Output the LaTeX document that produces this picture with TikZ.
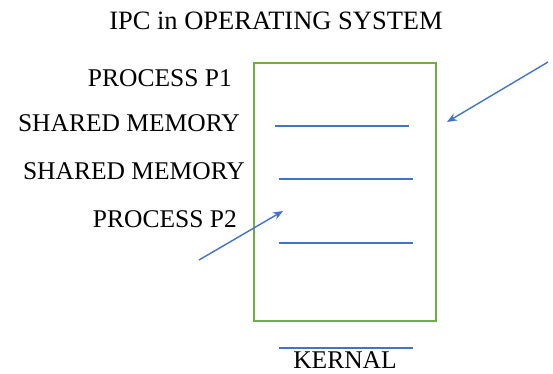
\documentclass[tikz,border=0pt]{standalone}
\usepackage{fontspec}
\setmainfont{Liberation Serif}
\usetikzlibrary{arrows.meta}
\definecolor{boxgreen}{RGB}{112,173,71}
\definecolor{lineblue}{RGB}{68,114,196}
\begin{document}
\begin{tikzpicture}[x=1pt,y=-1pt,
  lbl/.style={inner sep=0pt,font=\fontsize{25.5}{28}\selectfont},
  ttl/.style={inner sep=0pt,font=\fontsize{26.5}{30}\selectfont},
  kbox/.style={draw=boxgreen,line width=1.6pt},
  memline/.style={draw=lineblue,line width=1.3pt},
  blarrow/.style={draw=lineblue,line width=1.4pt,-{Stealth[length=10pt,width=8pt]}}]
\useasboundingbox (0,0) rectangle (553,373);
\node[ttl,anchor=base] (title) at (276,29) {IPC in OPERATING SYSTEM};
\node[kbox,minimum width=182pt,minimum height=258pt,inner sep=0pt,anchor=north west] (box) at (253,62) {};
\node[lbl,anchor=base east] (p1) at (232,86) {PROCESS P1};
\node[lbl,anchor=base east] (sm1) at (240,131) {SHARED MEMORY};
\node[lbl,anchor=base east] (sm2) at (245,179) {SHARED MEMORY};
\node[lbl,anchor=base east] (p2) at (237,227) {PROCESS P2};
\node[lbl,anchor=base] (kern) at (345,368) {KERNAL};
\coordinate (l1a) at (275,126); \coordinate (l1b) at (409,126);
\coordinate (l2a) at (279,179); \coordinate (l2b) at (413,179);
\coordinate (l3a) at (279,243); \coordinate (l3b) at (413,243);
\coordinate (l4a) at (279,348); \coordinate (l4b) at (413,348);
\draw[memline] (l1a) -- (l1b);
\draw[memline] (l2a) -- (l2b);
\draw[memline] (l3a) -- (l3b);
\draw[memline] (l4a) -- (l4b);
\coordinate (a1s) at (548,62); \coordinate (a1e) at (447,122);
\coordinate (a2s) at (199,260); \coordinate (a2e) at (283,211);
\draw[blarrow] (a1s) -- (a1e);
\draw[blarrow] (a2s) -- (a2e);
\end{tikzpicture}
\end{document}
